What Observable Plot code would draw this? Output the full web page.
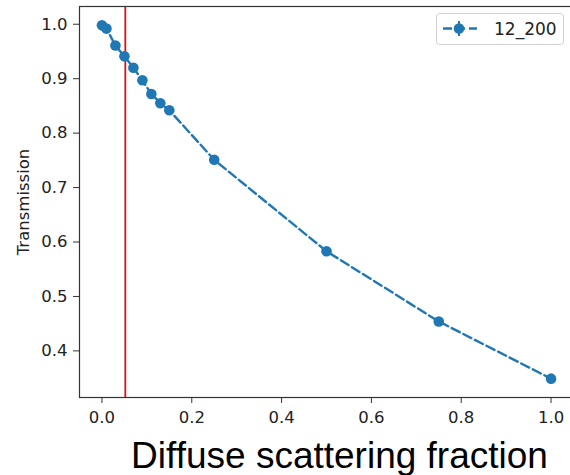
<!DOCTYPE html>
<html>
<head>
<meta charset="utf-8">
<script src="https://cdn.jsdelivr.net/npm/d3@7"></script>
<script src="https://cdn.jsdelivr.net/npm/@observablehq/plot@0.6"></script>
<style>
  html, body { margin: 0; padding: 0; background: #fff; }
  #chart svg { display: block; }
</style>
</head>
<body>
<div id="chart"></div>
<script>
const fractions = [0, 0.01, 0.03, 0.05, 0.07, 0.09, 0.11, 0.13, 0.15, 0.25, 0.5, 0.75, 1.0];
const transmission = [0.998, 0.992, 0.961, 0.941, 0.920, 0.897, 0.872, 0.855, 0.842, 0.751, 0.583, 0.454, 0.349];
const seriesName = "12_200";
const markerFraction = 0.052;
const xTicks = [0, 0.2, 0.4, 0.6, 0.8, 1.0];
const yTicks = [0.4, 0.5, 0.6, 0.7, 0.8, 0.9, 1.0];
const xLabel = "Diffuse scattering fraction";
const yLabel = "Transmission";

const data = fractions.map((f, i) => ({f, t: transmission[i]}));
const blue = "#1f77b4";
const tickFont = "DejaVu Sans, sans-serif";

const chart = Plot.plot({
  width: 570,
  height: 475,
  marginLeft: 79,
  marginRight: -3,
  marginTop: 6,
  marginBottom: 78,
  style: {fontFamily: tickFont, background: "#fff"},
  x: {domain: [-0.05, 1.05]},
  y: {domain: [0.3144, 1.0326]},
  marks: [
    Plot.ruleX([markerFraction], {stroke: "#e01010", strokeWidth: 1.8}),
    Plot.line(data, {x: "f", y: "t", stroke: blue, strokeWidth: 2.4, strokeDasharray: "9,4"}),
    Plot.dot(data, {x: "f", y: "t", r: 5.3, fill: blue, stroke: "none"}),
    Plot.frame({stroke: "#333", strokeWidth: 1.2}),
    Plot.axisX({ticks: xTicks, tickFormat: d3.format(".1f"), tickSize: 6, tickPadding: 8, fontSize: 16.5, color: "#222", stroke: "#333", label: null}),
    Plot.axisY({ticks: yTicks, tickFormat: d3.format(".1f"), tickSize: 6, tickPadding: 6, fontSize: 16.5, color: "#222", stroke: "#333", label: null}),
    Plot.text([yLabel], {frameAnchor: "left", rotate: -90, lineAnchor: "bottom", textAnchor: "middle", dx: -51, fontSize: 16.5, fill: "#222", fontFamily: tickFont}),
    Plot.text([xLabel], {frameAnchor: "bottom", lineAnchor: "bottom", textAnchor: "middle", dx: 13, dy: 70, fontSize: 37, fill: "#000", fontFamily: "Liberation Sans, Arial, sans-serif"})
  ]
});

// Legend box (top-right)
const svg = d3.select(chart);
const lg = svg.append("g").attr("class", "legend").attr("text-anchor", "start");
lg.append("rect").attr("x", 436.5).attr("y", 13.5).attr("width", 127).attr("height", 31)
  .attr("rx", 3).attr("fill", "#fff").attr("fill-opacity", 0.8).attr("stroke", "#d0d0d0").attr("stroke-width", 1);
lg.append("line").attr("x1", 442).attr("x2", 477).attr("y1", 28.5).attr("y2", 28.5)
  .attr("stroke", blue).attr("stroke-width", 2.4).attr("stroke-dasharray", "9,4").attr("stroke-dashoffset", -1);
lg.append("line").attr("x1", 459).attr("x2", 459).attr("y1", 21).attr("y2", 36)
  .attr("stroke", blue).attr("stroke-width", 2);
lg.append("circle").attr("cx", 459).attr("cy", 28.5).attr("r", 5.3).attr("fill", blue);
lg.append("text").attr("x", 494).attr("y", 35).attr("font-size", 17).attr("fill", "#222")
  .attr("text-anchor", "start").attr("font-family", tickFont).text(seriesName);

document.getElementById("chart").appendChild(chart);
</script>
</body>
</html>
